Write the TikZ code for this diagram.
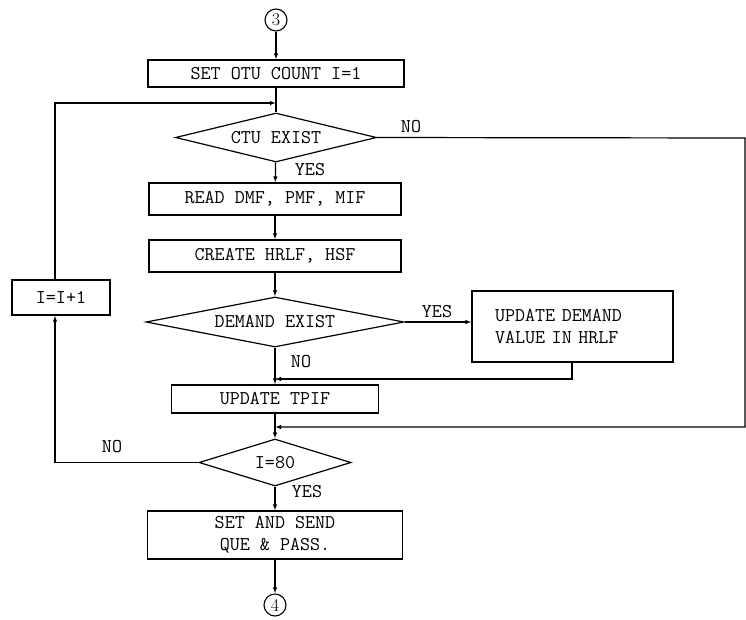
\documentclass[tikz,border=0pt]{standalone}
\usepackage{fontspec}
\usetikzlibrary{shapes.geometric,arrows.meta}
\begin{document}
\begin{tikzpicture}[x=1pt,y=-1pt,
  every node/.style={font=\fontsize{19.5}{22}\selectfont\ttfamily},
  box/.style={draw,line width=1.2pt,inner sep=0pt,align=center},
  dec/.style={draw,diamond,shape aspect=4,inner sep=0pt,line width=1.2pt},
  conn/.style={draw,circle,line width=1.1pt,inner sep=0pt,minimum size=22pt,font=\fontsize{18}{18}\selectfont},
  lbl/.style={inner sep=0pt},
  ln/.style={line width=1.2pt},
  arr/.style={ln,-{Latex[length=6pt,width=4.5pt]}}]
\useasboundingbox (0,0) rectangle (746,619);
\node[conn] (c3) at (276,20) {3};
\node[box,minimum width=256pt,minimum height=27pt] (b1) at (276,73.5) {SET OTU COUNT I=1};
\coordinate (j1) at (276,103);
\node[dec,minimum width=201pt,minimum height=49pt] (d1) at (276,137.5) {CTU EXIST};
\node[box,minimum width=252pt,minimum height=32pt] (b2) at (275,199) {READ DMF, PMF, MIF};
\node[box,minimum width=252pt,minimum height=32pt] (b3) at (275,256) {CREATE HRLF, HSF};
\node[dec,minimum width=258pt,minimum height=50pt] (d2) at (275,322) {DEMAND EXIST};
\node[box,minimum width=201pt,minimum height=71pt,align=left,text width=155pt] (upd) at (572.5,326.5) {UPDATE DEMAND\\VALUE IN HRLF};
\coordinate (j2) at (275,379);
\node[box,minimum width=207pt,minimum height=28pt] (tpif) at (275,399) {UPDATE TPIF};
\coordinate (j3) at (275,427);
\node[dec,minimum width=152pt,minimum height=47pt] (d3) at (275,462.5) {I=80};
\node[box,minimum width=255pt,minimum height=48pt] (send) at (275,535) {SET AND SEND\\ QUE \& PASS.};
\node[conn] (c4) at (275,605) {4};
\node[box,minimum width=98pt,minimum height=35pt] (inc) at (61,297.5) {I=I+1};
\coordinate (r1) at (745,138);
\coordinate (r2) at (745,427);
\coordinate (u1) at (572,379);
\coordinate (l1) at (55,462.5);
\coordinate (l2) at (55,103);
% labels
\node[lbl] at (411,127) {NO};
\node[lbl] at (310,170) {YES};
\node[lbl] at (437,312) {YES};
\node[lbl] at (301,362) {NO};
\node[lbl] at (112,447) {NO};
\node[lbl] at (307,492) {YES};
% connectors
\draw[arr] (c3) -- (b1);
\draw[ln] (b1) -- (d1);
\draw[arr] (d1) -- (b2);
\draw[arr] (b2) -- (b3);
\draw[arr] (b3) -- (d2);
\draw[arr] (d2.east) -- (upd.west |- d2.east);
\draw[arr] (d2) -- (tpif);
\draw[arr] (upd.south -| u1) -- (u1) -- (j2);
\draw[arr] (d1.east) -- (r1) -- (r2) -- (j3);
\draw[arr] (tpif) -- (d3);
\draw[arr] (d3.west) -- (l1) -- (inc.south -| l1);
\draw[arr] (inc.north -| l2) -- (l2) -- (j1);
\draw[arr] (d3) -- (send);
\draw[arr] (send) -- (c4);
\end{tikzpicture}
\end{document}
